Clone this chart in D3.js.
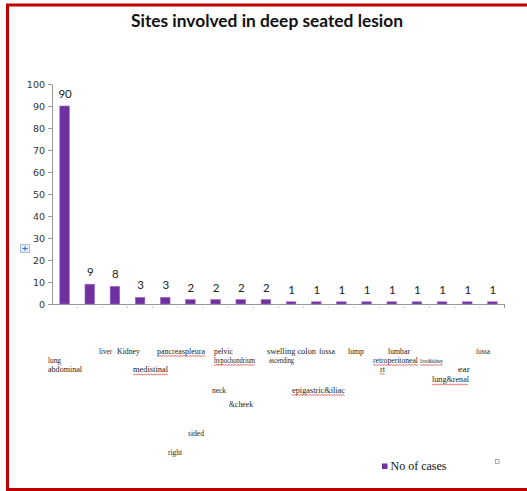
<!DOCTYPE html>
<html>
<head>
<meta charset="utf-8">
<script src="https://cdn.jsdelivr.net/npm/d3@7"></script>
<style>
  html, body { margin: 0; padding: 0; background: #fff; }
  svg { display: block; }
</style>
</head>
<body>
<script>
// Number of cases per deep seated lesion site
const categories = [
  "lung", "liver", "Kidney", "pancreas", "pleura", "medistinal",
  "pelvic", "hypochondrium", "neck & cheek", "right sided swelling",
  "colon ascending", "iliac fossa", "lump", "epigastric", "retroperitoneal",
  "lumbar", "lung&renal", "ear"
];
const cases = [90, 9, 8, 3, 3, 2, 2, 2, 2, 1, 1, 1, 1, 1, 1, 1, 1, 1];
const yTicks = [0, 10, 20, 30, 40, 50, 60, 70, 80, 90, 100];
const seriesName = "No of cases";
const title = "Sites involved in deep seated lesion";

// Category label fragments as they wrap under the axis
const labelParts = [
  { text: "liver", x: 99, y: 353.5, w: 13 },
  { text: "Kidney", x: 117, y: 353.5, w: 23 },
  { text: "pancreaspleura", x: 157, y: 353.5, w: 48, squiggle: true },
  { text: "pelvic", x: 214, y: 353.5, w: 19 },
  { text: "swelling colon", x: 267, y: 353.5, w: 49 },
  { text: "fossa", x: 319, y: 353.5, w: 16 },
  { text: "lump", x: 348, y: 353.5, w: 16 },
  { text: "lumbar", x: 388, y: 353.5, w: 22 },
  { text: "fossa", x: 476, y: 353.5, w: 14 },
  { text: "lung", x: 48, y: 362.5, w: 13 },
  { text: "hypochondrium", x: 214, y: 362.5, w: 41, squiggle: true },
  { text: "ascending", x: 269, y: 362.5, w: 25 },
  { text: "retroperitoneal", x: 373, y: 362.5, w: 45, squiggle: true },
  { text: "liver&kidney", x: 420, y: 362.5, w: 23, small: true, squiggle: true },
  { text: "abdominal", x: 48, y: 372, w: 34 },
  { text: "medistinal", x: 133, y: 372, w: 35, squiggle: true },
  { text: "rt", x: 380, y: 371.5, w: 5, squiggle: true },
  { text: "ear", x: 458, y: 371.5, w: 12 },
  { text: "lung&renal", x: 432, y: 382, w: 37, squiggle: true },
  { text: "neck", x: 212, y: 393, w: 14 },
  { text: "epigastric&iliac", x: 292, y: 392.5, w: 53, squiggle: true },
  { text: "&cheek", x: 229, y: 407, w: 24 },
  { text: "sided", x: 188, y: 436, w: 16 },
  { text: "right", x: 168, y: 455, w: 14 }
];

const W = 527, H = 491;
const barColor = "#7030A0";
const plot = { left: 52, right: 505, top: 84, bottom: 304 };

const svg = d3.select("body").append("svg")
  .attr("width", W).attr("height", H);

// frame
svg.append("rect")
  .attr("x", 7.5).attr("y", 5).attr("width", W + 10).attr("height", 484.5)
  .attr("fill", "#fff").attr("stroke", "#c00000").attr("stroke-width", 3);

// title
svg.append("text")
  .attr("x", 131).attr("y", 27)
  .attr("font-family", "Lato, 'Open Sans', sans-serif")
  .attr("font-weight", "bold")
  .attr("font-size", 16.5)
  .attr("textLength", 272)
  .attr("lengthAdjust", "spacingAndGlyphs")
  .attr("fill", "#111")
  .text(title);

const x = d3.scaleBand()
  .domain(categories)
  .range([plot.left, plot.right])
  .paddingInner(0.62).paddingOuter(0.31);

const y = d3.scaleLinear()
  .domain([0, 100])
  .range([plot.bottom, plot.top]);

// y axis
const yAxis = svg.append("g")
  .attr("transform", `translate(${plot.left},0)`)
  .call(d3.axisLeft(y).tickValues(yTicks).tickSize(4).tickPadding(3).tickSizeOuter(0));
yAxis.select(".domain").attr("stroke", "#999");
yAxis.selectAll(".tick line").attr("stroke", "#999");
yAxis.selectAll(".tick text")
  .attr("font-family", "'DejaVu Sans', Verdana, sans-serif")
  .attr("font-size", 9.5)
  .attr("fill", "#333");

// x axis baseline with ticks at category boundaries
const step = x.step();
const boundaries = d3.range(1, categories.length).map(i => plot.left + i * step);
svg.append("line")
  .attr("x1", plot.left - 3).attr("x2", plot.right)
  .attr("y1", plot.bottom + 0.5).attr("y2", plot.bottom + 0.5)
  .attr("stroke", "#999");
svg.selectAll(".xtick").data(boundaries).join("line")
  .attr("class", "xtick")
  .attr("x1", d => d).attr("x2", d => d)
  .attr("y1", plot.bottom + 2.5).attr("y2", plot.bottom + 4)
  .attr("stroke", "#bbb");
svg.append("line")
  .attr("x1", plot.right - 0.5).attr("x2", plot.right - 0.5)
  .attr("y1", plot.bottom).attr("y2", plot.bottom + 4)
  .attr("stroke", "#999");

// bars
svg.selectAll(".bar").data(cases).join("rect")
  .attr("class", "bar")
  .attr("x", (d, i) => x(categories[i]))
  .attr("y", d => y(d))
  .attr("width", x.bandwidth())
  .attr("height", d => y(0) - y(d))
  .attr("fill", barColor)
  .attr("stroke", "#9b6cc4")
  .attr("stroke-width", 0.6);

// value labels
svg.selectAll(".val").data(cases).join("text")
  .attr("class", "val")
  .attr("x", (d, i) => x(categories[i]) + x.bandwidth() / 2 + 0.5)
  .attr("y", d => y(d) - 8)
  .attr("text-anchor", "middle")
  .attr("font-family", "Lato, 'Open Sans', sans-serif")
  .attr("font-size", 11.5)
  .attr("fill", "#222")
  .text(d => d);

// category label fragments
const lab = svg.append("g")
  .attr("font-family", "'Liberation Serif', 'Times New Roman', serif")
  .attr("fill", "#222");
labelParts.forEach(p => {
  lab.append("text")
    .attr("x", p.x).attr("y", p.y)
    .attr("font-size", p.small ? 6 : 8.5)
    .attr("textLength", p.w)
    .attr("lengthAdjust", "spacingAndGlyphs")
    .text(p.text);
  if (p.squiggle) {
    const pts = [];
    for (let t = 0; t <= p.w; t += 1.5) {
      pts.push([p.x + t, p.y + 2 + ((Math.round(t / 1.5) % 2) ? 0.9 : 0)]);
    }
    lab.append("path")
      .attr("d", d3.line()(pts))
      .attr("fill", "none")
      .attr("stroke", "#e03030")
      .attr("stroke-width", 0.7);
  }
});

// legend
svg.append("rect")
  .attr("x", 382).attr("y", 463.5).attr("width", 5.5).attr("height", 5.5)
  .attr("fill", barColor);
svg.append("text")
  .attr("x", 390.5).attr("y", 469.5)
  .attr("font-family", "'Liberation Serif', 'Times New Roman', serif")
  .attr("font-size", 12)
  .attr("fill", "#111")
  .text(seriesName);

// small handle box near legend
svg.append("rect")
  .attr("x", 495.5).attr("y", 459.5).attr("width", 3.5).attr("height", 4)
  .attr("fill", "#fff").attr("stroke", "#aaa").attr("stroke-width", 1);

// expand icon at left edge
const icon = svg.append("g").attr("transform", "translate(20,244)");
icon.append("rect").attr("x", 0.5).attr("y", 0.5).attr("width", 9).attr("height", 8)
  .attr("fill", "#e4ecf7").attr("stroke", "#a8bcd8");
icon.append("path").attr("d", "M5,2 V7 M2.5,4.5 H7.5")
  .attr("stroke", "#3b6fc0").attr("stroke-width", 1);
</script>
</body>
</html>
